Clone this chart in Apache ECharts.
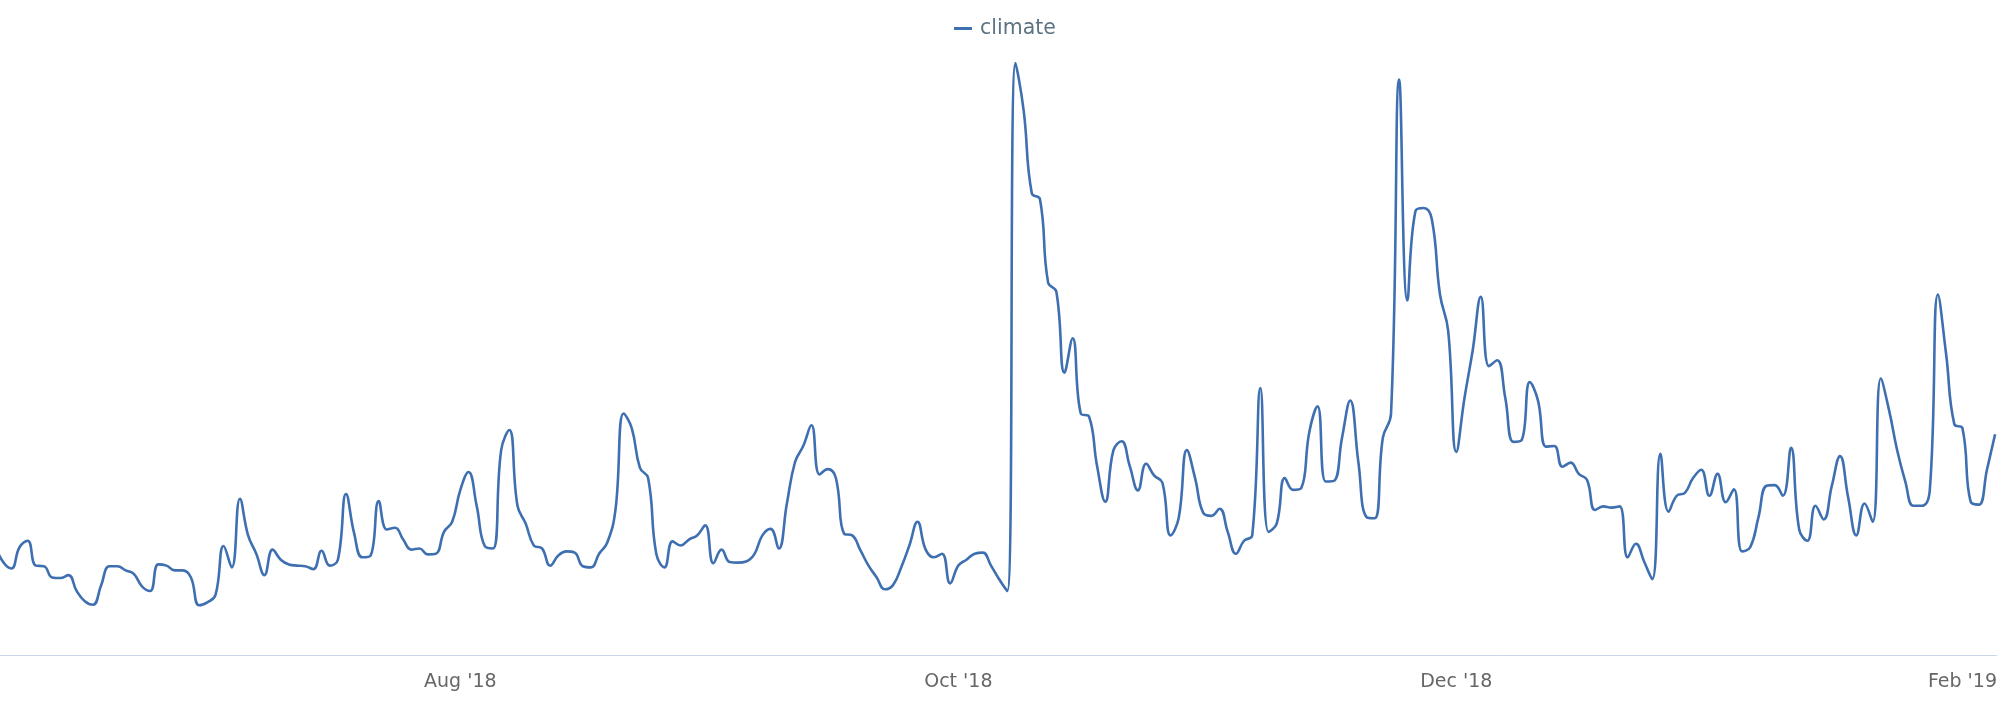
<!DOCTYPE html>
<html><head><meta charset="utf-8">
<script src="https://cdn.jsdelivr.net/npm/echarts@6/dist/echarts.min.js"></script>
<style>html,body{margin:0;padding:0;background:#fff}#c{width:2000px;height:715px}</style>
</head><body><div id="c"></div>
<script>
const seriesName = 'climate';
const startDate = '2018-06-05';
const values = [
 18.5, 15.7, 14.6, 18.2, 19.3, 15.1, 15.0, 13.1, 13.0, 13.5, 10.8,
 9.1, 8.5, 11.8, 15.0, 15.0, 14.3, 13.7, 11.6, 10.8, 15.3,
 15.1, 14.3, 14.3, 13.1, 8.4, 8.9, 10.1, 18.4, 14.8, 26.4,
 20.2, 17.1, 13.5, 17.8, 16.1, 15.3, 15.1, 15.0, 14.5, 17.6,
 15.1, 16.1, 27.2, 20.5, 16.5, 16.8, 26.0, 21.2, 21.5, 19.5,
 17.8, 18.0, 17.0, 17.1, 20.8, 22.5, 27.9, 30.9, 25.2, 18.4,
 18.0, 34.6, 38.0, 25.2, 22.2, 18.5, 18.0, 15.1, 16.8, 17.5,
 17.3, 15.0, 14.8, 17.1, 19.0, 24.5, 40.8, 38.3, 31.6, 29.9,
 17.1, 14.8, 19.2, 18.5, 19.5, 20.2, 21.9, 15.5, 17.8, 15.7,
 15.6, 15.8, 17.0, 20.2, 21.3, 18.0, 25.6, 32.6, 35.3, 38.8,
 30.5, 31.4, 29.9, 20.5, 20.2, 17.7, 15.1, 13.1, 11.1, 11.8,
 14.8, 18.5, 22.5, 17.8, 16.5, 17.1, 12.1, 15.1, 16.1, 17.1,
 17.3, 15.1, 12.8, 10.8, 100, 92.0, 78.0, 77.0, 62.9, 61.4,
 47.7, 53.5, 40.8, 40.3, 31.9, 25.9, 34.6, 36.1, 31.9, 27.8,
 32.3, 30.3, 29.1, 20.2, 23.2, 34.6, 29.9, 24.0, 23.5, 24.7,
 20.8, 17.1, 19.3, 20.2, 45.1, 20.8, 22.2, 29.9, 27.9, 28.2,
 37.7, 42.0, 29.3, 29.4, 36.7, 43.0, 32.6, 23.3, 23.1, 36.7,
 40.7, 97.2, 59.9, 75.0, 75.5, 73.6, 60.9, 54.8, 34.3, 43.4,
 51.4, 60.5, 48.8, 49.8, 43.4, 36.0, 36.3, 46.1, 43.0, 35.2,
 35.3, 31.8, 32.5, 30.6, 29.6, 24.5, 25.1, 24.9, 25.1, 16.5,
 18.8, 15.8, 12.8, 34.0, 24.2, 26.9, 27.4, 29.9, 31.3, 26.9,
 30.6, 25.8, 28.0, 17.5, 18.2, 23.2, 28.6, 28.7, 26.9, 35.0,
 21.2, 19.3, 25.2, 22.9, 28.6, 33.6, 26.6, 20.2, 25.6, 22.5,
 46.7, 41.4, 34.6, 29.3, 25.2, 25.2, 27.9, 60.9, 50.8, 39.0,
 38.3, 25.9, 25.4, 31.3, 37.3
];
const tickDates = ['2018-08-01', '2018-10-01', '2018-12-01', '2019-02-01'];
const tickLabels = ["Aug '18", "Oct '18", "Dec '18", "Feb '19"];

function utc(s) { const p = s.split('-').map(Number); return Date.UTC(p[0], p[1] - 1, p[2]); }
const DAY = 864e5;
const t0 = utc(startDate);
const data = values.map((v, i) => [t0 + i * DAY, v]);
const tickTs = tickDates.map(utc);

const chart = echarts.init(document.getElementById('c'), null, { renderer: 'canvas' });
chart.setOption({
  animation: false,
  legend: {
    top: 13, left: 949,
    icon: 'rect', itemWidth: 18, itemHeight: 3, itemGap: 20,
    textStyle: { color: '#5b7383', fontSize: 20.5, fontFamily: 'DejaVu Sans', padding: [0, 0, 0, 3] }
  },
  grid: { left: 0, right: 0, top: 63, bottom: 60, containLabel: false },
  xAxis: {
    type: 'value',
    min: t0 + 0.61 * DAY,
    max: t0 + 245.2 * DAY,
    axisLine: { show: true, onZero: false, lineStyle: { color: '#ccd6eb', width: 1 } },
    axisTick: { show: false },
    splitLine: { show: false },
    axisLabel: {
      customValues: tickTs,
      formatter: function (v) {
        let best = 0, bd = Infinity;
        tickTs.forEach((t, i) => { const d = Math.abs(t - v); if (d < bd) { bd = d; best = i; } });
        return tickLabels[best];
      },
      color: '#666666', fontSize: 19, fontFamily: 'DejaVu Sans', margin: 18
    }
  },
  yAxis: { type: 'value', min: 0, max: 100, show: false },
  series: [{
    name: seriesName, type: 'line', data: data, smooth: 0.45, symbol: 'none',
    lineStyle: { width: 2.6, color: '#3e6fb0' }, itemStyle: { color: '#3e6fb0' }
  }]
});
</script>
</body></html>
